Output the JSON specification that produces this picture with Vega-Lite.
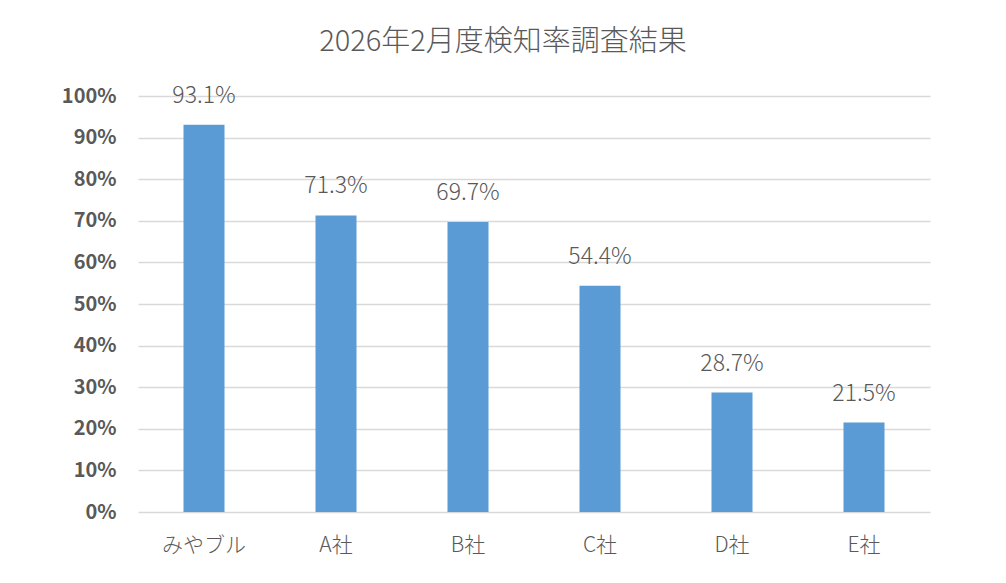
{
  "$schema": "https://vega.github.io/schema/vega-lite/v6.json",
  "autosize": "none",
  "width": 792,
  "height": 416,
  "padding": {"left": 138, "top": 96, "right": 76, "bottom": 71},
  "background": "white",
  "title": {
    "text": "2026年2月度検知率調査結果",
    "font": "Noto Sans CJK JP",
    "fontSize": 29,
    "fontWeight": 300,
    "color": "#595959",
    "anchor": "middle",
    "dx": -31,
    "offset": 28
  },
  "config": {
    "view": {"stroke": null},
    "font": "Noto Sans CJK JP"
  },
  "data": {
    "values": [
      {"company": "みやブル", "rate": 0.931},
      {"company": "A社", "rate": 0.713},
      {"company": "B社", "rate": 0.697},
      {"company": "C社", "rate": 0.544},
      {"company": "D社", "rate": 0.287},
      {"company": "E社", "rate": 0.215}
    ]
  },
  "encoding": {
    "x": {
      "field": "company",
      "type": "nominal",
      "sort": null,
      "title": null,
      "axis": {
        "labelAngle": 0,
        "labelFont": "Noto Sans CJK JP",
        "labelFontSize": 21,
        "labelFontWeight": 300,
        "labelColor": "#595959",
        "labelPadding": 22,
        "ticks": false,
        "domain": false,
        "grid": false
      }
    },
    "y": {
      "field": "rate",
      "type": "quantitative",
      "title": null,
      "scale": {"domain": [0, 1]},
      "axis": {
        "format": ".0%",
        "values": [0, 0.1, 0.2, 0.3, 0.4, 0.5, 0.6, 0.7, 0.8, 0.9, 1.0],
        "labelOverlap": false,
        "labelFont": "Noto Sans CJK JP",
        "labelFontSize": 20,
        "labelFontWeight": "bold",
        "labelColor": "#595959",
        "labelPadding": 22,
        "ticks": false,
        "domain": false,
        "gridColor": "#d9d9d9",
        "gridWidth": 1.5
      }
    }
  },
  "layer": [
    {
      "mark": {"type": "bar", "color": "#5b9bd5", "size": 41}
    },
    {
      "mark": {
        "type": "text",
        "dy": -29,
        "fontSize": 23,
        "fontWeight": 300,
        "color": "#595959",
        "font": "Noto Sans CJK JP"
      },
      "encoding": {
        "text": {"field": "rate", "type": "quantitative", "format": ".1%"}
      }
    }
  ]
}
